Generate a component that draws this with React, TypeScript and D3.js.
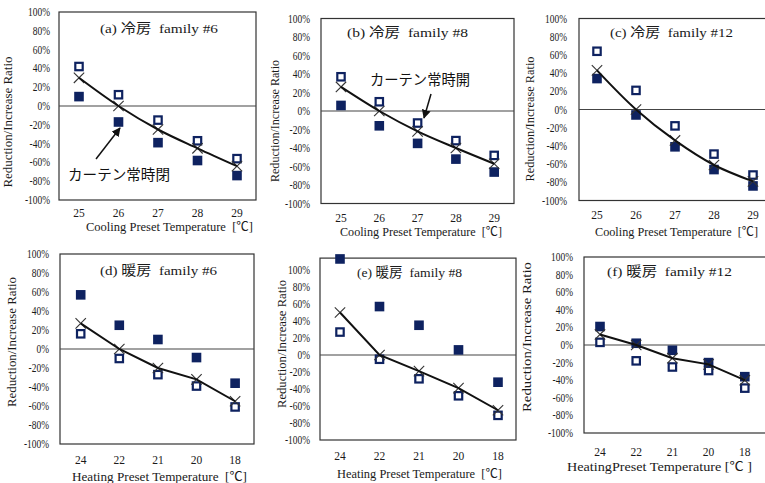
import React from 'react';
import * as d3 from 'd3';

const coolingTemps = ['25', '26', '27', '28', '29'];
const heatingTemps = ['24', '22', '21', '20', '18'];
const yTickValues = [100, 80, 60, 40, 20, 0, -20, -40, -60, -80, -100];

// (a) cooling family #6
const aOpen = [42, 12, -15, -37, -56];
const aFilled = [10, -17, -39, -58, -74];
const aCross = [30, 0, -25, -45, -64];
// (b) cooling family #8
const bOpen = [37, 10, -13, -32, -48];
const bFilled = [6, -16, -35, -52, -66];
const bCross = [26, 0, -22, -40, -57];
// (c) cooling family #12
const cOpen = [64, 21, -18, -49, -72];
const cFilled = [34, -6, -41, -66, -84];
const cCross = [43, 0, -34, -61, -79];
// (d) heating family #6
const dOpen = [16, -10, -27, -39, -61];
const dFilled = [57, 25, 10, -9, -36];
const dCross = [27, 0, -20, -32, -55];
// (e) heating family #8
const eOpen = [27, -5, -28, -48, -71];
const eFilled = [113, 57, 35, 6, -32];
const eCross = [50, 0, -19, -39, -65];
// (f) heating family #12
const fOpen = [3, -18, -25, -29, -49];
const fFilled = [21, 2, -6, -20, -36];
const fCross = [12, 0, -15, -22, -40];

const NAVY = '#0e2260';
const SERIF = '"Liberation Serif", "Times New Roman", "Noto Sans CJK JP", serif';
const SANS_JP = '"Noto Sans CJK JP", "Noto Sans", sans-serif';

interface Layout {
  boxL: number; boxR: number; y0: number; ppu: number; yMax: number;
  xFirst: number; xStep: number; tickY: number; labelGap: number;
  xtX0: number; xtX1: number; xtY: number;
  ytX: number; ytY: number; ytLen: number;
  tX0: number; tX1: number; tY: number;
}

interface Panel {
  id: string; title: string; cats: string[]; open: number[]; filled: number[]; cross: number[];
  smooth: boolean; xTitle: string; L: Layout;
}

const panels: Panel[] = [
  { id: 'a', title: '(a) 冷房  family #6', cats: coolingTemps, open: aOpen, filled: aFilled, cross: aCross, smooth: true,
    xTitle: 'Cooling Preset Temperature  [℃]',
    L: { boxL: 59, boxR: 256, y0: 106, ppu: 94, yMax: 100, xFirst: 79, xStep: 39.5, tickY: 217, labelGap: 9,
      xtX0: 86, xtX1: 253, xtY: 231, ytX: 8, ytY: 122, ytLen: 131, tX0: 100, tX1: 218, tY: 33 } },
  { id: 'b', title: '(b) 冷房  family #8', cats: coolingTemps, open: bOpen, filled: bFilled, cross: bCross, smooth: true,
    xTitle: 'Cooling Preset Temperature  [℃]',
    L: { boxL: 321, boxR: 514, y0: 111, ppu: 92.5, yMax: 100, xFirst: 341, xStep: 38.3, tickY: 222, labelGap: 11,
      xtX0: 340, xtX1: 502, xtY: 236, ytX: 275, ytY: 121, ytLen: 122, tX0: 347, tX1: 468, tY: 37 } },
  { id: 'c', title: '(c) 冷房  family #12', cats: coolingTemps, open: cOpen, filled: cFilled, cross: cCross, smooth: true,
    xTitle: 'Cooling Preset Temperature  [℃]',
    L: { boxL: 579, boxR: 767, y0: 109.5, ppu: 91, yMax: 100, xFirst: 597, xStep: 39, tickY: 219, labelGap: 12,
      xtX0: 595, xtX1: 758, xtY: 236, ytX: 530, ytY: 119, ytLen: 125, tX0: 610, tX1: 733, tY: 37 } },
  { id: 'd', title: '(d) 暖房  family #6', cats: heatingTemps, open: dOpen, filled: dFilled, cross: dCross, smooth: false,
    xTitle: 'Heating Preset Temperature  [℃]',
    L: { boxL: 60, boxR: 254, y0: 349, ppu: 95, yMax: 100, xFirst: 80.7, xStep: 38.6, tickY: 464, labelGap: 11,
      xtX0: 72, xtX1: 247, xtY: 481, ytX: 12, ytY: 342, ytLen: 130, tX0: 100, tX1: 217, tY: 275 } },
  { id: 'e', title: '(e) 暖房  family #8', cats: heatingTemps, open: eOpen, filled: eFilled, cross: eCross, smooth: false,
    xTitle: 'Heating Preset Temperature  [℃]',
    L: { boxL: 320, boxR: 516, y0: 355, ppu: 85, yMax: 114, xFirst: 340, xStep: 39.5, tickY: 460, labelGap: 10,
      xtX0: 337, xtX1: 502, xtY: 478, ytX: 282, ytY: 344, ytLen: 128, tX0: 357, tX1: 462, tY: 277 } },
  { id: 'f', title: '(f) 暖房  family #12', cats: heatingTemps, open: fOpen, filled: fFilled, cross: fCross, smooth: false,
    xTitle: 'HeatingPreset Temperature [℃ ]',
    L: { boxL: 584, boxR: 767, y0: 345, ppu: 88, yMax: 100, xFirst: 600, xStep: 36.2, tickY: 456, labelGap: 11,
      xtX0: 567, xtX1: 752, xtY: 471, ytX: 527, ytY: 337, ytLen: 150, tX0: 607, tX1: 732, tY: 276 } },
];

function PanelView({ p }: { p: Panel }) {
  const L = p.L;
  const yBottom = L.y0 + L.ppu;
  const yTop = L.y0 - (L.ppu * L.yMax) / 100;
  const y = d3.scaleLinear().domain([-100, L.yMax]).range([yBottom, yTop]);
  const x = d3.scalePoint<string>().domain(p.cats).range([L.xFirst, L.xFirst + L.xStep * (p.cats.length - 1)]);
  const line = d3
    .line<number>()
    .x((_, i) => x(p.cats[i]) as number)
    .y((d) => y(d))
    .curve(p.smooth ? d3.curveCatmullRom.alpha(0.5) : d3.curveLinear);
  const s = 4.8;
  const cs = 5.2;
  return (
    <g>
      <rect x={L.boxL} y={y(L.yMax)} width={L.boxR - L.boxL} height={y(-100) - y(L.yMax)} fill="#fff" stroke="#333" strokeWidth={1.2} />
      <line x1={L.boxL} x2={L.boxR} y1={y(0)} y2={y(0)} stroke="#444" strokeWidth={1.1} />
      {yTickValues.map((v) => (
        <g key={v} transform={`translate(${L.boxL - L.labelGap},${y(v)}) scale(0.82,1)`}>
          <text x={0} y={0} dy="0.35em" textAnchor="end" fontFamily={SERIF} fontSize={11.5} fill="#1a1a1a">
            {v + '%'}
          </text>
        </g>
      ))}
      {p.cats.map((c) => (
        <text key={c} x={x(c)} y={L.tickY} textAnchor="middle" fontFamily={SERIF} fontSize={11.5} fill="#1a1a1a">
          {c}
        </text>
      ))}
      <text x={L.xtX0} y={L.xtY} textLength={L.xtX1 - L.xtX0} lengthAdjust="spacingAndGlyphs" fontFamily={SERIF} fontSize={12.5} fill="#1a1a1a" style={{ whiteSpace: 'pre' }}>
        {p.xTitle}
      </text>
      <text transform={`translate(${L.ytX},${L.ytY}) rotate(-90)`} textAnchor="middle" dy="0.35em" textLength={L.ytLen} lengthAdjust="spacingAndGlyphs" fontFamily={SERIF} fontSize={12.5} fill="#1a1a1a">
        Reduction/Increase Ratio
      </text>
      <text x={L.tX0} y={L.tY} textLength={L.tX1 - L.tX0} lengthAdjust="spacingAndGlyphs" fontFamily={SERIF} fontSize={13.5} fill="#1a1a1a" style={{ whiteSpace: 'pre' }}>
        {p.title}
      </text>
      {p.open.map((v, i) => (
        <rect key={'o' + i} x={(x(p.cats[i]) as number) - s + 1.1} y={y(v) - s + 1.1} width={2 * s - 2.2} height={2 * s - 2.2} fill="#fff" stroke={NAVY} strokeWidth={2.2} />
      ))}
      {p.filled.map((v, i) => (
        <rect key={'f' + i} x={(x(p.cats[i]) as number) - s} y={y(v) - s} width={2 * s} height={2 * s} fill={NAVY} />
      ))}
      {p.cross.map((v, i) => {
        const cx = x(p.cats[i]) as number;
        const cy = y(v);
        return (
          <g key={'x' + i} stroke="#333" strokeWidth={1.1}>
            <line x1={cx - cs} y1={cy - cs} x2={cx + cs} y2={cy + cs} />
            <line x1={cx - cs} y1={cy + cs} x2={cx + cs} y2={cy - cs} />
          </g>
        );
      })}
      <path d={line(p.cross) || ''} fill="none" stroke="#111" strokeWidth={2} />
    </g>
  );
}

export default function App() {
  return (
    <svg width={765} height={483} viewBox="0 0 765 483" style={{ position: 'absolute', left: 0, top: 0, background: '#fff' }}>
      <defs>
        <marker id="arrowHead" viewBox="0 0 10 10" refX="9" refY="5" markerWidth="9" markerHeight="9" markerUnits="userSpaceOnUse" orient="auto">
          <path d="M0,0 L10,5 L0,10 z" fill="#111" />
        </marker>
      </defs>
      <rect x={0} y={0} width={765} height={483} fill="#fff" />
      {panels.map((p) => (
        <PanelView key={p.id} p={p} />
      ))}
      <text x={68} y={180} textLength={102} lengthAdjust="spacingAndGlyphs" fontFamily={SANS_JP} fontSize={14.5} fill="#111">
        カーテン常時閉
      </text>
      <line x1={96} y1={159} x2={120} y2={128} stroke="#111" strokeWidth={1.5} markerEnd="url(#arrowHead)" />
      <text x={370} y={85} textLength={100} lengthAdjust="spacingAndGlyphs" fontFamily={SANS_JP} fontSize={14.5} fill="#111">
        カーテン常時開
      </text>
      <line x1={431} y1={94} x2={424} y2={118} stroke="#111" strokeWidth={1.5} markerEnd="url(#arrowHead)" />
    </svg>
  );
}
